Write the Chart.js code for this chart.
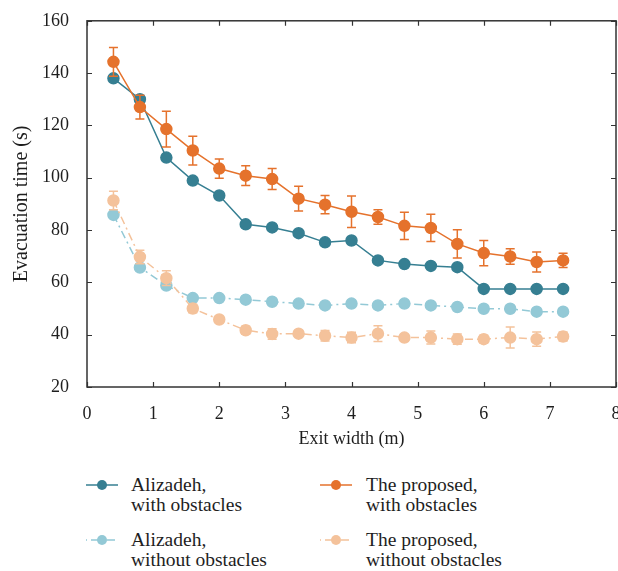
<!DOCTYPE html>
<html>
<head>
<meta charset="utf-8">
<script src="https://cdn.jsdelivr.net/npm/chart.js@4.4.0/dist/chart.umd.min.js"></script>
<style>
  body { margin: 0; overflow: hidden; background: #fff; width: 618px; height: 571px; }
  #wrap { position: absolute; left: 0; top: 0; width: 630px; height: 452px; }
  .leg { position: absolute; font-family: "Liberation Serif", serif; font-size: 19.5px; line-height: 20px; color: #1e1e1e; }
  .sym { position: absolute; }
</style>
</head>
<body>
<div id="wrap"><canvas id="chart" width="630" height="452"></canvas></div>

<svg class="sym" style="left:84px;top:475px" width="38" height="20">
  <line x1="2" y1="10" x2="34" y2="10" stroke="#367f92" stroke-width="1.5"/>
  <circle cx="18" cy="10" r="5" fill="#367f92"/>
</svg>
<div class="leg" style="left:131px;top:475px">Alizadeh,<br>with obstacles</div>

<svg class="sym" style="left:318px;top:475px" width="38" height="20">
  <line x1="2" y1="10" x2="34" y2="10" stroke="#e5722c" stroke-width="1.5"/>
  <circle cx="18" cy="10" r="5" fill="#e5722c"/>
</svg>
<div class="leg" style="left:366px;top:475px">The proposed,<br>with obstacles</div>

<svg class="sym" style="left:84px;top:530px" width="38" height="20">
  <line x1="2" y1="10" x2="34" y2="10" stroke="#93c9d6" stroke-width="1.5" stroke-dasharray="1,4,8,3"/>
  <circle cx="18" cy="10" r="5" fill="#93c9d6"/>
</svg>
<div class="leg" style="left:131px;top:530px">Alizadeh,<br>without obstacles</div>

<svg class="sym" style="left:318px;top:530px" width="38" height="20">
  <line x1="2" y1="10" x2="34" y2="10" stroke="#f4c29b" stroke-width="1.5" stroke-dasharray="1,4,8,3"/>
  <circle cx="18" cy="10" r="5" fill="#f4c29b"/>
</svg>
<div class="leg" style="left:366px;top:530px">The proposed,<br>without obstacles</div>

<script>
// exit widths (m)
const exitWidth = [0.4, 0.8, 1.2, 1.6, 2.0, 2.4, 2.8, 3.2, 3.6, 4.0, 4.4, 4.8, 5.2, 5.6, 6.0, 6.4, 6.8, 7.2];

// evacuation times (s)
const alizadehWith = [138, 130, 107.7, 98.9, 93.2, 82.2, 81, 78.8, 75.3, 76, 68.4, 67, 66.3, 65.8, 57.5, 57.5, 57.5, 57.5];
const proposedWith = [144.3, 127, 118.6, 110.4, 103.5, 100.8, 99.5, 92, 89.7, 87, 85, 81.6, 80.8, 74.7, 71.2, 69.9, 67.8, 68.4];
const proposedWithErr = [5.5, 4.5, 6.8, 5.5, 3.7, 3.8, 4, 4.7, 3.5, 6, 2.8, 5.2, 5.2, 5.4, 4.8, 3, 3.8, 2.7];
const alizadehWithout = [85.8, 65.7, 58.8, 54, 54, 53.4, 52.6, 51.9, 51.2, 51.9, 51.2, 51.9, 51.2, 50.6, 49.9, 49.9, 48.8, 48.8];
const proposedWithout = [91.3, 69.7, 61.6, 50, 45.8, 41.7, 40.3, 40.4, 39.6, 38.9, 40.4, 38.9, 38.9, 38.3, 38.3, 38.9, 38.3, 39.3];
const proposedWithoutErr = [3.5, 2.6, 2.8, 1.6, 1, 1.5, 2, 1, 2, 2, 3, 1, 2.5, 2, 1.5, 4, 2.7, 1.7];

const xTicks = [0, 1, 2, 3, 4, 5, 6, 7, 8];
const yTicks = [20, 40, 60, 80, 100, 120, 140, 160];

const FONT = "Liberation Serif";
const AXIS = "#333";
const TEXT = "#1e1e1e";

function toPoints(ys) {
    return exitWidth.map((x, i) => ({x: x, y: ys[i]}));
}

function series(label, ys, color, dash, errs) {
    return {
        label: label,
        data: toPoints(ys),
        errors: errs,
        borderColor: color,
        backgroundColor: color,
        pointBackgroundColor: color,
        pointBorderColor: color,
        pointRadius: 5.5,
        pointHoverRadius: 5.5,
        borderWidth: 1.5,
        borderDash: dash,
        tension: 0
    };
}

// vertical error bars, drawn just under each dataset's own line and points
const errorBars = {
    id: "errorBars",
    beforeDatasetDraw(chart, args) {
        const ds = chart.data.datasets[args.index];
        if (!ds.errors) return;
        const ctx = chart.ctx;
        const xs = chart.scales.x, ys = chart.scales.y;
        ctx.save();
        ctx.strokeStyle = ds.borderColor;
        ctx.lineWidth = 1.5;
        ds.data.forEach((p, i) => {
            const px = xs.getPixelForValue(p.x);
            const top = ys.getPixelForValue(p.y + ds.errors[i]);
            const bot = ys.getPixelForValue(p.y - ds.errors[i]);
            ctx.beginPath();
            ctx.moveTo(px, top); ctx.lineTo(px, bot);
            ctx.moveTo(px - 4.5, top); ctx.lineTo(px + 4.5, top);
            ctx.moveTo(px - 4.5, bot); ctx.lineTo(px + 4.5, bot);
            ctx.stroke();
        });
        ctx.restore();
    }
};

// box frame with inward ticks on all four sides
const frame = {
    id: "frame",
    afterDraw(chart) {
        const ctx = chart.ctx;
        const a = chart.chartArea;
        const xs = chart.scales.x, ys = chart.scales.y;
        ctx.save();
        ctx.strokeStyle = AXIS;
        ctx.lineWidth = 1.5;
        ctx.strokeRect(a.left, a.top, a.right - a.left, a.bottom - a.top);
        ctx.lineWidth = 1.2;
        ctx.beginPath();
        xTicks.forEach(v => {
            const px = Math.round(xs.getPixelForValue(v)) + 0.5;
            ctx.moveTo(px, a.bottom); ctx.lineTo(px, a.bottom - 5);
            ctx.moveTo(px, a.top); ctx.lineTo(px, a.top + 5);
        });
        yTicks.forEach(v => {
            const py = Math.round(ys.getPixelForValue(v)) + 0.5;
            ctx.moveTo(a.left, py); ctx.lineTo(a.left + 5, py);
            ctx.moveTo(a.right, py); ctx.lineTo(a.right - 5, py);
        });
        ctx.stroke();
        ctx.restore();
    }
};

new Chart("chart", {
    type: "line",
    data: {
        datasets: [
            series("The proposed, with obstacles", proposedWith, "#e5722c", [], proposedWithErr),
            series("Alizadeh, with obstacles", alizadehWith, "#367f92", [], null),
            series("The proposed, without obstacles", proposedWithout, "#f4c29b", [8, 4, 2, 4], proposedWithoutErr),
            series("Alizadeh, without obstacles", alizadehWithout, "#93c9d6", [8, 4, 2, 4], null)
        ]
    },
    plugins: [errorBars, frame],
    options: {
        responsive: false,
        animation: false,
        devicePixelRatio: 1,
        layout: {padding: {left: 0, right: 14, top: 15, bottom: 0}},
        plugins: {
            legend: {display: false},
            tooltip: {enabled: false}
        },
        scales: {
            x: {
                type: "linear",
                min: 0,
                max: 8,
                afterBuildTicks: (s) => { s.ticks = xTicks.map(v => ({value: v})); },
                afterFit: (s) => { s.height = 65; },
                grid: {display: false},
                border: {display: false},
                ticks: {
                    padding: 8,
                    color: TEXT,
                    font: {family: FONT, size: 18},
                    maxRotation: 0
                },
                title: {
                    display: true,
                    text: "Exit width (m)",
                    color: TEXT,
                    font: {family: FONT, size: 18},
                    padding: {top: 0, bottom: 2}
                }
            },
            y: {
                min: 20,
                max: 160,
                afterBuildTicks: (s) => { s.ticks = yTicks.map(v => ({value: v})); },
                afterFit: (s) => { s.width = 87; },
                grid: {display: false},
                border: {display: false},
                ticks: {
                    padding: 10,
                    color: TEXT,
                    font: {family: FONT, size: 18}
                },
                title: {
                    display: true,
                    text: "Evacuation time (s)",
                    color: TEXT,
                    font: {family: FONT, size: 20},
                    padding: {top: 10, bottom: 0}
                }
            }
        }
    }
});
</script>
</body>
</html>
